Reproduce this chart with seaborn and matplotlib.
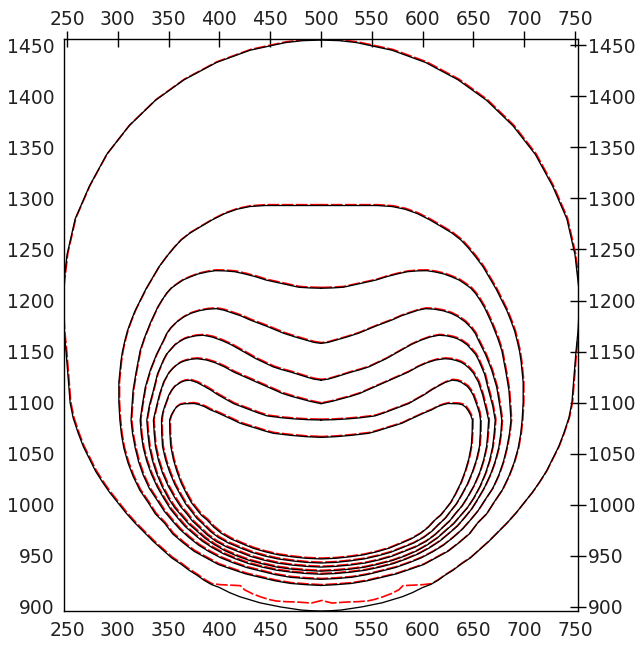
import pandas as pd
import seaborn as sns
import matplotlib.pyplot as plt
from matplotlib import transforms

# Interface contours, left halves only: start at top centre (x=500),
# go round the left side and end at bottom centre. Shapes are mirrored about x=500.
outer_x = [500, 482, 465, 430, 397, 365, 337, 311, 289, 272, 258, 250, 246,
           246, 247, 249, 251, 253, 256, 261, 266, 272, 278, 285, 292, 300, 308, 317, 326,
           335, 344, 353, 362, 370, 378, 385, 392, 400, 410, 420, 430, 440, 450, 460, 470,
           480, 490, 500]
outer_y = [1455, 1454.4, 1452.5, 1445, 1433, 1416, 1396, 1371, 1343, 1312, 1280, 1245, 1210,
           1190, 1170, 1150, 1125, 1100, 1085, 1070, 1057, 1045, 1033, 1022, 1012, 1002, 992, 982, 973,
           964, 956, 948, 942, 936, 931, 926, 922, 919, 914, 910, 907, 904, 902, 900, 898.5,
           897, 896.3, 896]

# second model (red) departs from the black one near the bottom of the outer contour
outer_red_x = [500, 482, 465, 430, 397, 365, 337, 311, 289, 272, 258, 250, 246,
               246, 247, 249, 251, 253, 256, 261, 266, 272, 278, 285, 292, 300, 308, 317, 326,
               335, 344, 353, 362, 370, 378, 385, 392, 400, 410, 420, 424, 432, 440, 448, 455,
               465, 475, 490, 500]
outer_red_y = [1455, 1454.4, 1452.5, 1445, 1433, 1416, 1396, 1371, 1343, 1312, 1280, 1245, 1210,
               1190, 1170, 1150, 1125, 1100, 1085, 1070, 1057, 1045, 1033, 1022, 1012, 1002, 992, 982, 973,
               964, 956, 948, 942, 936, 931, 926, 922, 921, 920.5, 920, 916, 912, 909, 906.5, 905,
               904.3, 904, 903, 905.5]

c2_x = [500, 460, 445, 430, 417, 405, 393, 381, 371, 362, 355, 348, 340.5, 334, 327.5, 322,
        317, 313, 309.5, 307, 304.5, 303, 301, 301,
        302, 303.5, 306, 310, 315, 321.5, 330, 337, 346, 354, 364, 375, 387, 399, 412, 426,
        440, 455, 470, 485, 500]
c2_y = [1293, 1293, 1293, 1292, 1289.3, 1285, 1279, 1272, 1266, 1259, 1251.5, 1243, 1233, 1222, 1211, 1200,
        1190, 1180, 1170.5, 1161, 1150, 1140, 1120, 1100,
        1083, 1069, 1055, 1041, 1028, 1014.5, 1002, 991, 982, 971.5, 963, 954.5, 948, 941.5, 937, 932.3,
        929, 925.5, 923, 921.8, 921]

c3_x = [500, 489, 478, 462, 446, 435.5, 425, 415, 405, 396, 388, 379, 371, 364, 358, 352.5,
        348, 343.5, 339, 332, 326, 322, 318, 315, 314,
        313, 314.5, 317, 320.5, 325, 331, 339, 345.5, 353, 361, 370, 379.5, 390, 401.5, 414, 427,
        441, 455, 470, 485, 500]
c3_y = [1212, 1212.3, 1213, 1216.5, 1220, 1223.3, 1226, 1228.2, 1229, 1229.2, 1228, 1226, 1223, 1220, 1216, 1212,
        1207, 1200.5, 1193, 1178, 1163, 1151, 1130, 1112, 1098,
        1083, 1069.5, 1056, 1042, 1029, 1016, 1004, 994, 985, 976, 968, 960.5, 954, 948, 943, 938.5,
        935, 931.6, 929, 927.8, 927]

c4_x = [500, 493, 486, 474.5, 463, 446.5, 430, 421, 412, 404.5, 397, 388.5, 380, 372, 365, 358,
        352, 348, 345, 338, 332, 327, 324,
        322, 323, 325, 328.5, 333, 339, 346, 352, 359, 366, 374, 383, 393, 404, 416, 428.5,
        442, 456, 471, 485.5, 500]
c4_y = [1158, 1159, 1161, 1164.3, 1168, 1174.8, 1181, 1185, 1188, 1190.5, 1192, 1191.5, 1190, 1187.5, 1184, 1179,
        1173, 1167.5, 1161, 1147, 1132, 1115, 1097,
        1083, 1069.5, 1056, 1042.5, 1030, 1017, 1005, 995.5, 987, 979, 972, 964.5, 958, 952, 947, 942.5,
        939, 936, 934, 932.7, 932]

c5_x = [500, 493, 486, 478, 470, 461.5, 453, 444.5, 436, 428, 420, 411, 402, 393, 384, 377,
        370, 365.5, 361, 356, 352, 348, 345, 339, 335, 331,
        328.5, 329.5, 331, 334, 338, 343.5, 350, 356, 363, 369.5, 377, 385.5, 395, 405.5, 417, 429.5,
        443, 456.5, 471, 485.5, 500]
c5_y = [1122, 1123, 1125, 1127.5, 1130, 1132.3, 1135, 1139, 1143, 1147.5, 1152, 1157, 1161, 1164.2, 1166, 1165.5,
        1164, 1162.5, 1160, 1156.5, 1152, 1147.5, 1142, 1128, 1112, 1097,
        1083, 1070, 1057, 1043.5, 1031, 1018, 1006, 997, 989, 981.5, 975, 967.5, 961, 955, 950, 945.5,
        942, 939, 937, 935.7, 935]

c6_x = [500, 489.5, 479, 470.5, 462, 454, 446, 438, 430, 422, 414, 405, 396, 387, 378, 372,
        366, 362, 358, 354, 350, 345, 341, 338,
        335, 335.8, 337, 340, 344, 349.5, 356, 361.5, 368, 373.5, 380, 388, 397, 407.5, 419, 430.5,
        443, 456.5, 471, 485.5, 500]
c6_y = [1099, 1101.2, 1104, 1106.3, 1109, 1112.5, 1116, 1119.5, 1123, 1126.5, 1130, 1135, 1139, 1141.8, 1143, 1142.5,
        1141, 1139.5, 1137, 1133.5, 1129, 1120, 1108, 1096,
        1083, 1070, 1057, 1043.5, 1031, 1018.5, 1007, 998.5, 991, 984, 978, 970.5, 964, 958.5, 954, 949.5,
        946, 943, 941, 939.7, 939]

c7_x = [500, 487.5, 475, 461, 447, 438.5, 430, 422, 414, 406, 398, 391.5, 385, 378, 371, 366,
        362, 356, 352.8, 350, 346, 344,
        343, 343.2, 344, 347, 351, 356, 362, 367, 373, 378, 384, 391, 399, 409, 420, 431.5,
        444, 457.5, 472, 485.5, 500]
c7_y = [1083, 1083.3, 1084, 1085.2, 1087, 1089.8, 1093, 1096, 1099, 1103.5, 1108, 1112.3, 1116, 1119.7, 1122, 1121.5,
        1120, 1116, 1112, 1107, 1096, 1089.5,
        1083, 1070, 1057, 1044, 1032, 1020, 1009, 1000.5, 993, 986.5, 981, 974, 968, 962.5, 958, 953.5,
        950, 947, 945, 943.6, 943]

c8_x = [500, 485, 470, 453, 444.5, 436, 428, 420, 412.5, 405, 398, 391, 385.5, 380, 375, 370,
        365.5, 361, 357.5, 355, 352.5,
        351, 351.2, 352, 354.5, 358, 362.5, 368, 372.5, 378, 382.5, 388, 394.5, 402, 411.5, 422, 433,
        445, 458, 472, 485.5, 500]
c8_y = [1066, 1066.7, 1068, 1070, 1072.3, 1075, 1077.4, 1080, 1083.6, 1087, 1090.2, 1093, 1096, 1098, 1099.2, 1099,
        1098.9, 1098, 1095.5, 1092, 1087.5,
        1083, 1070.5, 1058, 1045, 1033, 1021, 1010, 1002, 995, 989.5, 985, 978, 972, 966.5, 962, 957.5,
        954, 951, 949, 947.6, 947]

x_ticks = [250, 300, 350, 400, 450, 500, 550, 600, 650, 700, 750]
y_ticks = [900, 950, 1000, 1050, 1100, 1150, 1200, 1250, 1300, 1350, 1400, 1450]

black_halves = [(outer_x, outer_y), (c2_x, c2_y), (c3_x, c3_y), (c4_x, c4_y),
                (c5_x, c5_y), (c6_x, c6_y), (c7_x, c7_y), (c8_x, c8_y)]
red_halves = [(outer_red_x, outer_red_y)] + black_halves[1:]


def closed(xs, ys):
    # mirror the left half about x=500 to close the contour
    fx = list(xs) + [1000 - x for x in xs[::-1][1:]]
    fy = list(ys) + list(ys[::-1][1:])
    return fx, fy


def to_frame(halves):
    rows = []
    for i, (xs, ys) in enumerate(halves):
        fx, fy = closed(xs, ys)
        for k, (x, y) in enumerate(zip(fx, fy)):
            rows.append({"curve": i, "order": k, "x": x, "y": y})
    return pd.DataFrame(rows)


df_black = to_frame(black_halves)
df_red = to_frame(red_halves)

sns.set_theme(style="white")
plt.rcParams["font.family"] = ["DejaVu Sans"]

fig = plt.figure(figsize=(6.37, 6.45), dpi=100)
ax = fig.add_axes([0.1005, 0.0527, 0.8069, 0.8868])

# red model underneath, nudged by under a pixel so it peeks out beside the black one
sns.lineplot(data=df_red, x="x", y="y", units="curve", estimator=None, sort=False,
             color="red", lw=1.2, ax=ax, legend=False)
shift = transforms.offset_copy(ax.transData, fig=fig, x=0.5, y=0.6, units="points")
for line in ax.lines:
    line.set_transform(shift)
    line.set_dashes((7, 1.5))

sns.lineplot(data=df_black, x="x", y="y", units="curve", estimator=None, sort=False,
             color="black", lw=0.95, ax=ax, legend=False)

ax.set_xlim(247, 753)
ax.set_ylim(896, 1456)
ax.set_xticks(x_ticks)
ax.set_yticks(y_ticks)
ax.set_xlabel("")
ax.set_ylabel("")
ax.tick_params(direction="inout", length=12, width=1, color="black",
               top=True, right=True, labeltop=True, labelright=True,
               labelsize=13.5, labelcolor="#222222", pad=1)
for sp in ax.spines.values():
    sp.set_color("black")
    sp.set_linewidth(1)

fig.savefig("out.png", dpi=100)
